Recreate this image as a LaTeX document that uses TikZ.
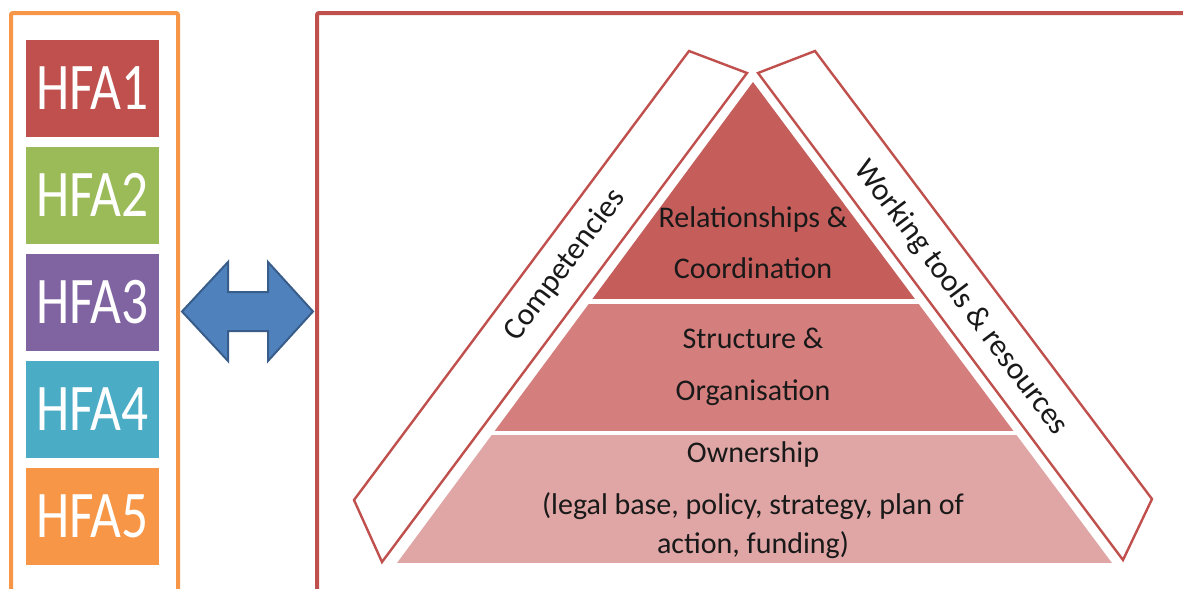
\documentclass[tikz,border=0pt]{standalone}
\usepackage{fontspec}
\setmainfont{Carlito}
\usepackage{tikz}

\definecolor{hfaone}{HTML}{C0504D}
\definecolor{hfatwo}{HTML}{9BBB59}
\definecolor{hfathree}{HTML}{8064A2}
\definecolor{hfafour}{HTML}{4BACC6}
\definecolor{hfafive}{HTML}{F79646}
\definecolor{frameorange}{HTML}{F79646}
\definecolor{framered}{HTML}{C0504D}
\definecolor{arrowblue}{HTML}{4F81BD}
\definecolor{arrowedge}{HTML}{385D8A}
\definecolor{tiertop}{HTML}{C55E5B}
\definecolor{tiermid}{HTML}{D47F7D}
\definecolor{tierlow}{HTML}{DFA6A5}

\newcommand{\hfalabel}[1]{\scalebox{1}[1.25]{#1}}

\begin{document}
\begin{tikzpicture}[
    x=0.75pt, y=-0.75pt,
    hfabox/.style={
        rectangle,
        inner sep=0pt,
        minimum width=99.75pt,
        minimum height=72.75pt,
        text=white,
        font=\fontsize{40}{40}\selectfont
    },
    frame/.style={
        draw,
        rectangle,
        line width=3pt,
        rounded corners=1.5pt
    },
    sidebar/.style={draw=framered, line width=1.8pt, fill=white, line join=miter},
    tiertext/.style={align=center, text=black!90, inner sep=0pt},
    sidetext/.style={text=black!90, inner sep=0pt, font=\fontsize{23.5}{28}\selectfont}
]

% Page area
\fill[white] (0,0) rectangle (1183,589);
\useasboundingbox (0,0) rectangle (1183,589);

% Outer frames (their lower edges run off the page)
\node[frame, draw=frameorange, minimum width=125.25pt, minimum height=433.5pt] (hfaframe) at (94.5,302) {};
\node[frame, draw=framered, minimum width=662.25pt, minimum height=433.5pt] (capframe) at (758.5,302) {};

% HFA boxes
\node[hfabox, fill=hfaone] (hfa1) at (92.5,88) {\hfalabel{HFA1}};
\node[hfabox, fill=hfatwo] (hfa2) at (92.5,195) {\hfalabel{HFA2}};
\node[hfabox, fill=hfathree] (hfa3) at (92.5,302) {\hfalabel{HFA3}};
\node[hfabox, fill=hfafour] (hfa4) at (92.5,409) {\hfalabel{HFA4}};
\node[hfabox, fill=hfafive] (hfa5) at (92.5,516) {\hfalabel{HFA5}};

% Two-way block arrow
\filldraw[fill=arrowblue, draw=arrowedge, line width=1.5pt, line join=miter]
    (182,311.5) -- (228,262) -- (228,292) -- (268,292) -- (268,262)
    -- (313,311.5) -- (268,361) -- (268,331) -- (228,331) -- (228,361) -- cycle;

% Pyramid tiers
\begin{scope}
    \clip (753,82) -- (397,563) -- (1112,563) -- cycle;
    \fill[tiertop] (380,70) rectangle (1130,299);
    \fill[tiermid] (380,304) rectangle (1130,431);
    \fill[tierlow] (380,435) rectangle (1130,563);
\end{scope}

% Side bars
\draw[sidebar] (354,500) -- (382,562) -- (747,73) -- (689,51) -- cycle;
\draw[sidebar] (758,73) -- (815,51) -- (1152,499) -- (1123,560) -- cycle;

% Tier labels
\node[tiertext, font=\fontsize{22.5}{38}\selectfont] (relations) at (753,242.5)
    {Relationships \&\\Coordination};
\node[tiertext, font=\fontsize{22.5}{39}\selectfont] (structure) at (753,367)
    {Structure \&\\Organisation};
\node[tiertext, font=\fontsize{22.5}{29.25}\selectfont] (ownership) at (753,500.5)
    {Ownership\\[9.75pt](legal base, policy, strategy, plan of\\action, funding)};

% Side labels
\node[sidetext, rotate=53] (competencies) at (565,265) {Competencies};
\node[sidetext, rotate=-53] (tools) at (961,298) {Working tools \& resources};

\end{tikzpicture}
\end{document}
